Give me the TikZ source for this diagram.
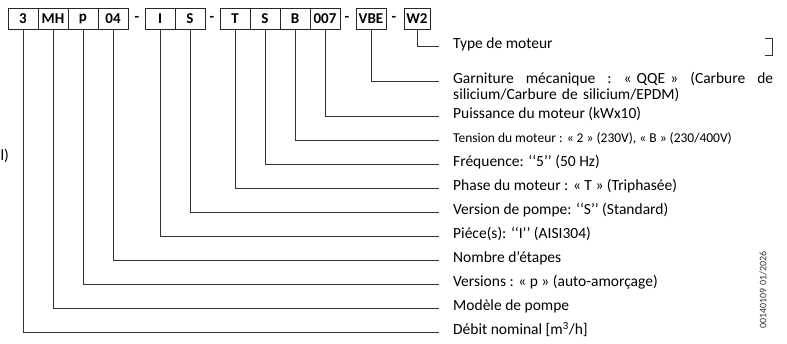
\documentclass[tikz,border=0pt]{standalone}
\usepackage{fontspec}
\setmainfont{Carlito}
\usetikzlibrary{positioning}

\begin{document}
\begin{tikzpicture}[x=1pt, y=-1pt,
  cell/.style={draw=black!85, line width=0.9pt, minimum width=30pt, minimum height=21pt, inner sep=0pt, font=\fontsize{15}{15}\selectfont\bfseries},
  sep/.style={inner sep=0pt, font=\fontsize{15}{15}\selectfont\bfseries},
  lbl/.style={anchor=mid west, inner sep=0pt, font=\fontsize{15.5}{16.5}\selectfont},
  conn/.style={draw=black!80, line width=0.9pt}
]
\useasboundingbox (0,0) rectangle (787,343);
% code boxes
\node[cell] (c1) at (23,18.5) {3};
\node[cell] (c2) at (53,18.5) {MH};
\node[cell] (c3) at (83,18.5) {p};
\node[cell] (c4) at (113,18.5) {04};
\node[sep] (d1) at (137,18.5) {-};
\node[cell] (c5) at (160,18.5) {I};
\node[cell] (c6) at (190,18.5) {S};
\node[sep] (d2) at (212,18.5) {-};
\node[cell] (c7) at (235,18.5) {T};
\node[cell] (c8) at (265,18.5) {S};
\node[cell] (c9) at (295,18.5) {B};
\node[cell] (c10) at (325,18.5) {007};
\node[sep] (d3) at (347,18.5) {-};
\node[cell] (c11) at (371,18.5) {VBE};
\node[sep] (d4) at (394,18.5) {-};
\node[cell, minimum width=26pt] (c12) at (417,18.5) {W2};
% labels
\node[lbl] (l12) at (453,46) {Type de moteur};
\node[lbl, text width=320pt, align=left] (l11) at (453,81) {Garniture\hfill mécanique\hfill :\hfill «~QQE~»\hfill (Carbure\hfill de\\silicium/Carbure de silicium/EPDM)};
\node[lbl] (l10) at (453,116) {Puissance du moteur (kWx10)};
\node[lbl, font=\fontsize{13.5}{14}\selectfont] (l9) at (453,140) {Tension du moteur : « 2 » (230V), « B » (230/400V)};
\node[lbl] (l8) at (453,164) {Fréquence: ‘‘5’’ (50 Hz)};
\node[lbl] (l7) at (453,188) {Phase du moteur : « T » (Triphasée)};
\node[lbl] (l6) at (453,212) {Version de pompe: ‘‘S’’ (Standard)};
\node[lbl] (l5) at (453,236) {Piéce(s): ‘‘I’’ (AISI304)};
\node[lbl] (l4) at (453,260) {Nombre d'étapes};
\node[lbl] (l3) at (453,284) {Versions : « p » (auto-amorçage)};
\node[lbl] (l2) at (453,308) {Modèle de pompe};
\node[lbl] (l1) at (453,332) {Débit nominal [m\textsuperscript{3}/h]};
% connectors
\foreach \i in {1,...,12}
  \draw[conn] (c\i.south) |- ([xshift=-14pt]l\i.mid west);
% margins
\node[anchor=mid east, inner sep=0pt, font=\fontsize{15.5}{16}\selectfont] (cut) at (9,158) {l)};
\draw[conn] (765,38) -- (772.5,38) -- (772.5,55) -- (765,55);
\node[rotate=90, inner sep=0pt, font=\fontsize{10}{10}\selectfont, text=black!80] (ref) at (763,290) {00140109 01/2026};
\end{tikzpicture}
\end{document}
